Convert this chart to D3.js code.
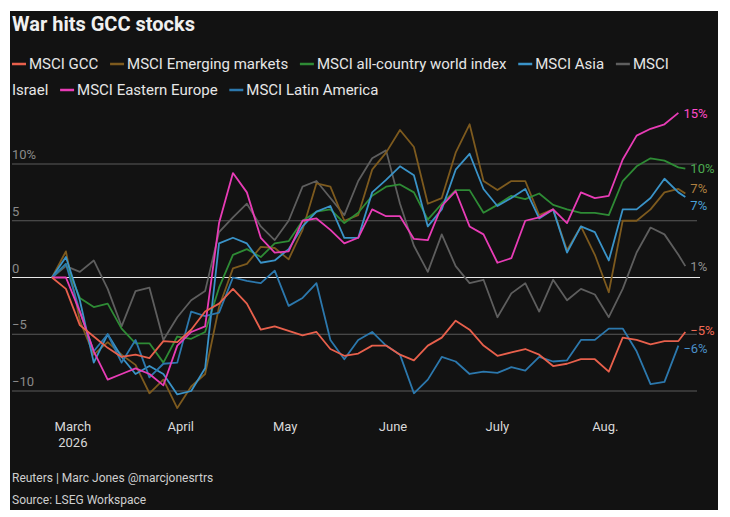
<!DOCTYPE html>
<html><head><meta charset="utf-8">
<script src="https://cdn.jsdelivr.net/npm/d3@7"></script>
<style>body{margin:0;background:#fff}svg{display:block}</style></head>
<body><svg id="c" width="730" height="517"></svg>
<script>
const startDate = new Date(2026,1,23);
const dayOffsets = [0,4,8,12,16,20,24,28,32,36,40,44,48,52,56,60,64,68,72,76,80,84,88,92,96,100,104,108,112,116,120,124,128,132,136,140,144,148,152,156,160,164,168,172,176,180,182];
const seriesNames = ["MSCI GCC","MSCI Emerging markets","MSCI all-country world index","MSCI Asia","MSCI Israel","MSCI Eastern Europe","MSCI Latin America"];
const seriesColors = ["#e8604c","#7d5a1e","#2e8b35","#3a93c8","#5e5e5e","#e83cb6","#2c78ad"];
const labelColors = ["#f06a55","#b08040","#4caa50","#4aa0d8","#909090","#ff4cc8","#4a90c8"];
const gcc = [0,-1.0,-4.2,-5.2,-6.2,-7.0,-6.8,-7.1,-5.6,-5.7,-4.6,-3.0,-2.3,-1.0,-2.3,-4.6,-4.3,-4.7,-5.1,-4.8,-6.3,-6.9,-6.7,-6.0,-6.0,-6.8,-7.3,-6.0,-5.3,-3.8,-4.6,-6.0,-6.9,-6.6,-6.3,-6.8,-7.8,-7.6,-7.2,-7.2,-8.3,-5.3,-5.5,-5.9,-5.6,-5.6,-4.8];
const emerging = [0,2.3,-3.8,-6.8,-5.7,-6.8,-7.7,-10.2,-9,-11.5,-9.6,-8.5,-2.6,0.8,1.2,2.7,2.6,1.6,4.2,8.3,8.0,5.0,5.5,9.5,11,13,11.5,6.5,7,11,13.5,8.5,7.7,8.5,8.5,5.5,6,2.4,4.5,2.0,-1.3,5.0,5.0,6.0,7.5,7.8,7.4];
const acwi = [0,1.2,-1.8,-2.6,-2.3,-4.5,-5.8,-5.8,-7.5,-5.2,-5.4,-4.8,-0.9,2,2.5,1.8,3,3.2,5,5.8,6.0,4.8,5.7,7.2,8.0,8.2,7.5,5.1,6.5,7.7,7.7,5.7,6.4,7.2,6.9,7.4,6.4,6.0,5.7,5.7,5.5,8.5,9.8,10.5,10.3,9.7,9.6];
const asia = [0,1.8,-2,-7.5,-5,-7,-8.5,-7.8,-8.5,-10.3,-10,-8,3,3.5,3,1.3,1.5,2.5,4.5,5.8,6.3,3.5,3.5,7.5,8.6,9.8,9.0,4.5,6.0,9.5,10.9,7.8,6.3,7.0,7.8,5.2,6.0,2.2,4.5,4.0,1.5,6.0,6.0,7.0,8.7,7.5,7.1];
const israel = [0,1.0,0.5,1.5,-1.0,-4.3,-1.2,-0.9,-5.5,-3.5,-2,-1.2,4,5.3,6.5,4.5,3.3,5.0,8.0,8.5,7.0,5.5,8.5,10.5,11.2,6.5,2.8,0.5,3.8,1.0,-0.5,-0.2,-3.5,-1.4,-0.5,-3.0,-0.2,-2.0,-1.0,-1.5,-3.5,-1.0,2.2,4.4,3.8,2.0,1.0];
const easternEurope = [0,0,-3.0,-6.5,-9.0,-8.5,-8,-8.5,-9.5,-6,-4.8,-4.3,4.8,9.2,7.5,3.5,2.2,2.3,5.0,5.2,4.2,3.0,3.5,6.0,5.4,5.4,3.4,3.3,6.3,7.6,4.5,3.8,1.3,1.7,5.0,5.3,6.0,4.8,7.5,7.0,7.2,10.4,12.5,13.1,13.5,14.5,null];
const latAm = [0,1.2,-3,-6.5,-5,-7.5,-5.5,-8.8,-7.6,-7.5,-3.0,-3.4,-3.1,0,-0.3,-0.5,0.6,-2.5,-1.8,-0.5,-5.5,-7.2,-5.5,-4.8,-6,-6.8,-10.2,-9,-7.0,-7.4,-8.5,-8.3,-8.4,-7.9,-8.2,-7.0,-7.4,-7.3,-5.5,-5.5,-4.5,-4.5,-6.5,-9.4,-9.2,-6.0,null];
const allSeries = [gcc,emerging,acwi,asia,israel,easternEurope,latAm];
const endLabels = ["−5%","7%","10%","7%","1%","15%","−6%"];
const endLabelY = [330,188,168,205,266,113,348];
const yTicks = [10,5,0,-5,-10];
const monthTicks = [["March",new Date(2026,2,1)],["April",new Date(2026,3,1)],["May",new Date(2026,4,1)],["June",new Date(2026,5,1)],["July",new Date(2026,6,1)],["Aug.",new Date(2026,7,1)]];

const svg = d3.select("#c");
const F = "'Liberation Sans Narrow','Roboto',sans-serif";
svg.append("rect").attr("x",10).attr("y",11).attr("width",708).attr("height",499).attr("fill","#121212");
svg.append("text").attr("x",12).attr("y",31).attr("fill","#f0f0f0").attr("font-family",F).attr("font-weight","bold").attr("font-size",20).text("War hits GCC stocks");

let lx=12, ly=69; const maxX=700;
const lg=svg.append("g").attr("font-family",F).attr("font-size",15).attr("fill","#e6e6e6");
const meas=(t)=>{const n=lg.append("text").text(t);const w=n.node().getComputedTextLength();n.remove();return w;};
const sp=meas("a b")-meas("ab");
seriesNames.forEach((n,i)=>{
  if(lx+18>maxX){lx=12;ly+=26;}
  lg.append("line").attr("x1",lx).attr("x2",lx+14).attr("y1",ly-5).attr("y2",ly-5).attr("stroke",seriesColors[i]).attr("stroke-width",2.5);
  lx+=17;
  n.split(" ").forEach((w,j)=>{const ww=meas(w);
    if(lx+ww>maxX){lx=12;ly+=26;}
    lg.append("text").attr("x",lx).attr("y",ly).text(w); lx+=ww+sp;});
  lx+=8;
});

const x=d3.scaleTime().domain([new Date(2026,1,23),new Date(2026,7,26)]).range([52,692.3]);
const y=d3.scaleLinear().domain([-10,10]).range([391,164]);
const dateOf=d=>d3.timeDay.offset(startDate,d);

yTicks.forEach(t=>{
  svg.append("line").attr("x1",12).attr("x2",t===0?700:697).attr("y1",y(t)).attr("y2",y(t)).attr("stroke",t===0?"#e8e8e8":"#5a5a5a").attr("stroke-width",1);
  svg.append("text").attr("x",12).attr("y",y(t)-5).attr("fill","#8a8a8a").attr("font-family",F).attr("font-size",13).text(t===10?"10%":(t<0?"−"+(-t):t));
});
monthTicks.forEach(([m,d])=>{
  svg.append("text").attr("x",x(d)).attr("y",431).attr("text-anchor","middle").attr("fill","#d8d8d8").attr("font-family",F).attr("font-size",13).text(m);
});
svg.append("text").attr("x",x(monthTicks[0][1])).attr("y",447).attr("text-anchor","middle").attr("fill","#d8d8d8").attr("font-family",F).attr("font-size",13).text("2026");

const line=d3.line().defined(v=>v[1]!=null).x(v=>x(dateOf(v[0]))).y(v=>y(v[1]));
const order=[4,1,2,3,6,5,0];
order.forEach(i=>{
  const pts=dayOffsets.map((d,k)=>[d,allSeries[i][k]]);
  svg.append("path").attr("d",line(pts)).attr("fill","none").attr("stroke",seriesColors[i]).attr("stroke-width",1.8).attr("stroke-linejoin","round");
  const last=pts.filter(p=>p[1]!=null).pop();
  svg.append("text").attr("x",x(dateOf(last[0]))+5).attr("y",endLabelY[i]+5).attr("fill",labelColors[i]).attr("font-family",F).attr("font-size",13).text(endLabels[i]);
});

svg.append("text").attr("x",12).attr("y",482).attr("fill","#cfcfcf").attr("font-family",F).attr("font-size",12).text("Reuters | Marc Jones @marcjonesrtrs");
svg.append("text").attr("x",12).attr("y",504).attr("fill","#cfcfcf").attr("font-family",F).attr("font-size",12).text("Source: LSEG Workspace");
</script></body></html>
